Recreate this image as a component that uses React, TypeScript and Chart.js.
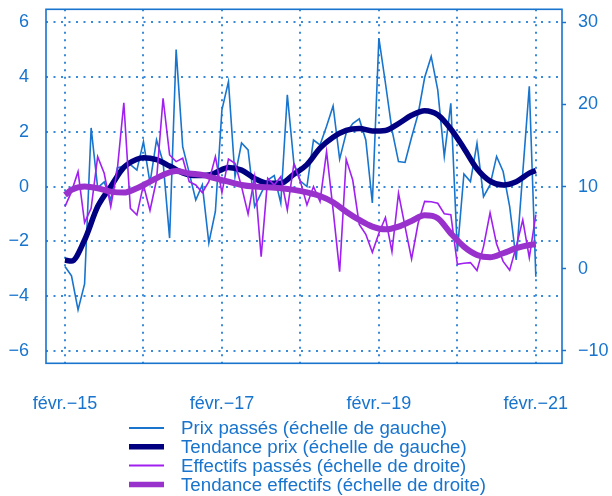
import React, { useEffect, useRef } from "react";
import { Chart, registerables } from "chart.js";

Chart.register(...registerables);

// ---- Data (months counted from févr. 2015 = 0) ----
const months = Array.from({ length: 73 }, (_, i) => i);

const prixPasses = [
  -2.92, -3.26, -4.5, -3.55, 2.14, -0.05, 0.17, -0.49, 0.68, 0.75,
  0.8, 0.6, 1.64, 0.13, 1.7, 0.9, -1.88, 5.0, 1.46, 0.5,
  -0.49, 0.06, -2.06, -0.91, 2.8, 3.83, 0.36, 1.59, 1.34, -0.73,
  -0.24, 0.24, 0.4, -0.6, 3.35, 0.86, 0.2, 0.0, 1.7, 1.52,
  2.2, 2.94, 1.0, 1.95, 2.3, 2.47, 1.7, -0.6, 5.42, 3.78,
  2.07, 0.91, 0.88, 1.8, 2.65, 3.98, 4.75, 3.53, 1.1, 3.04,
  -2.37, 0.46, 0.18, 1.58, -0.37, 0.06, 1.1, 0.55, -0.73, -2.68,
  0.5, 3.66, -3.29,
];

const effectifsPasses = [
  7.56, 9.39, 11.82, 5.61, 7.36, 13.65, 11.62, 7.56, 12.03, 20.2,
  7.36, 6.55, 10.2, 7.1, 10.8, 20.75, 13.85, 13.04, 13.45, 10.6,
  10.2, 9.27, 10.6, 13.65, 9.27, 13.36, 12.84, 10.0, 6.67, 11.2,
  1.48, 11.0, 10.2, 11.2, 7.16, 12.76, 10.6, 7.77, 10.0, 8.17,
  14.25, 7.16, -0.35, 13.32, 10.8, 5.4, 4.2, 2.0, 4.33, 6.24,
  2.08, 9.19, 5.13, 1.2, 5.54, 8.2, 8.15, 7.97, 6.7, 6.58,
  0.55, 0.67, 0.75, -0.22, 2.7, 6.8, 3.0, 0.9, -0.17, 2.7,
  5.94, 1.35, 6.6,
];

const tendancePrixMois = [0, 1, 3, 5, 7, 9, 11, 12, 14, 16, 18, 20, 22, 24, 25, 27, 29, 31, 33, 35, 37, 39, 41, 43, 45, 47, 49, 51, 53, 55, 57, 59, 61, 63, 65, 67, 69, 71, 72];
const tendancePrix = [
  -2.68, -2.72, -1.95, -0.73, 0.0, 0.7, 1.0, 1.05, 0.98, 0.75,
  0.5, 0.4, 0.42, 0.62, 0.7, 0.6, 0.3, 0.12, 0.12, 0.45,
  0.8, 1.4, 1.8, 2.05, 2.12, 2.03, 2.05, 2.3, 2.6, 2.77,
  2.62, 2.1, 1.4, 0.65, 0.2, 0.06, 0.18, 0.49, 0.58,
];

const tendanceEffMois = [0, 1, 3, 5, 7, 9, 11, 13, 15, 17, 19, 21, 23, 25, 27, 29, 31, 33, 35, 37, 39, 41, 43, 45, 47, 49, 51, 53, 55, 57, 59, 61, 63, 65, 67, 69, 71, 72];
const tendanceEffectifs = [
  8.98, 9.6, 10.0, 9.8, 9.39, 9.27, 9.8, 10.6, 11.42, 11.9,
  11.6, 11.42, 11.0, 10.6, 10.2, 10.0, 9.92, 9.8, 9.6, 9.3,
  8.86, 8.1, 6.95, 5.94, 5.13, 4.8, 5.13, 5.82, 6.5, 6.15,
  4.3, 2.7, 1.68, 1.4, 1.89, 2.5, 2.9, 2.98,
];

const xTickMonths = [0, 12, 24, 36, 48, 60, 72];
const xTickLabels: Record<number, string> = {
  0: "févr.−15",
  24: "févr.−17",
  48: "févr.−19",
  72: "févr.−21",
};
const leftTicks = [-6, -4, -2, 0, 2, 4, 6];
const rightTicks = [-10, 0, 10, 20, 30];

const seriesLabels = [
  "Prix passés (échelle de gauche)",
  "Tendance prix (échelle de gauche)",
  "Effectifs passés (échelle de droite)",
  "Tendance effectifs (échelle de droite)",
];

// ---- Styles ----
const BLUE = "#1874CD";
const GRID = "#3a8ad8";
const FAMILY = "'Liberation Sans', Arial, Helvetica, sans-serif";
const FONT = { family: FAMILY, size: 18 };
const LEGEND_FONT_SIZE = 18.7;
const fmt = (v: number) => String(v).replace("-", "\u2212");

const zeroPad = (s: any) => {
  s.paddingTop = 0;
  s.paddingBottom = 0;
  s.paddingLeft = 0;
  s.paddingRight = 0;
};

const boxPlugin = {
  id: "box",
  afterDatasetsDraw(chart: any) {
    const { ctx, chartArea: a } = chart;
    ctx.save();
    ctx.strokeStyle = BLUE;
    ctx.lineWidth = 1.6;
    ctx.strokeRect(a.left, a.top, a.right - a.left, a.bottom - a.top);
    ctx.restore();
  },
};

const legendPlugin = {
  id: "customLegend",
  afterDraw(chart: any) {
    const { ctx } = chart;
    const top = 428;
    const step = 18.8;
    ctx.save();
    ctx.font = `${LEGEND_FONT_SIZE}px ${FAMILY}`;
    ctx.textBaseline = "middle";
    ctx.textAlign = "left";
    chart.data.datasets.forEach((ds: any, i: number) => {
      const y = top + i * step;
      ctx.strokeStyle = ds.borderColor;
      ctx.lineWidth = ds.legendWidth;
      ctx.lineCap = "butt";
      ctx.beginPath();
      ctx.moveTo(129, y);
      ctx.lineTo(164, y);
      ctx.stroke();
      ctx.fillStyle = BLUE;
      ctx.fillText(ds.label, 181, y + 1);
    });
    ctx.restore();
  },
};

export default function App() {
  const ref = useRef<HTMLCanvasElement | null>(null);

  useEffect(() => {
    if (!ref.current) return;
    const chart = new Chart(ref.current, {
      type: "line",
      data: {
        datasets: [
          {
            label: seriesLabels[0],
            data: months.map((m, i) => ({ x: m, y: prixPasses[i] })),
            borderColor: BLUE,
            borderWidth: 1.6,
            legendWidth: 2,
            pointRadius: 0,
            tension: 0,
            yAxisID: "y",
            order: 4,
          } as any,
          {
            label: seriesLabels[1],
            data: tendancePrixMois.map((m, i) => ({ x: m, y: tendancePrix[i] })),
            borderColor: "#000080",
            borderWidth: 5.5,
            legendWidth: 5.5,
            pointRadius: 0,
            cubicInterpolationMode: "monotone",
            yAxisID: "y",
            order: 3,
          } as any,
          {
            label: seriesLabels[2],
            data: months.map((m, i) => ({ x: m, y: effectifsPasses[i] })),
            borderColor: "#A020F0",
            borderWidth: 1.6,
            legendWidth: 2,
            pointRadius: 0,
            tension: 0,
            yAxisID: "y2",
            order: 2,
          } as any,
          {
            label: seriesLabels[3],
            data: tendanceEffMois.map((m, i) => ({ x: m, y: tendanceEffectifs[i] })),
            borderColor: "#9932CC",
            borderWidth: 6,
            legendWidth: 5.5,
            pointRadius: 0,
            cubicInterpolationMode: "monotone",
            yAxisID: "y2",
            order: 1,
          } as any,
        ],
      },
      options: {
        responsive: false,
        animation: false,
        layout: { padding: { top: 9.3, right: 0, bottom: 0, left: 0 } },
        plugins: {
          legend: { display: false },
          tooltip: { enabled: false },
          title: { display: false },
        },
        scales: {
          x: {
            type: "linear",
            position: "bottom",
            min: -2.9,
            max: 76,
            afterBuildTicks: (s: any) => {
              s.ticks = xTickMonths.map((v) => ({ value: v }));
            },
            afterFit: (s: any) => {
              s.height = 496 - 363.3;
              zeroPad(s);
            },
            ticks: {
              color: BLUE,
              font: FONT,
              padding: 30,
              maxRotation: 0,
              autoSkip: false,
              callback: (v: any) => xTickLabels[v as number] ?? "",
            },
            grid: { color: GRID, lineWidth: 2, drawTicks: false },
            border: { display: false, dash: [2, 5.5] },
          },
          y: {
            type: "linear",
            position: "left",
            min: -6.45,
            max: 6.47,
            afterBuildTicks: (s: any) => {
              s.ticks = leftTicks.map((v) => ({ value: v }));
            },
            afterFit: (s: any) => {
              s.width = 46;
              zeroPad(s);
            },
            ticks: {
              color: BLUE,
              font: FONT,
              padding: 17,
              callback: (v: any) => fmt(v as number),
            },
            grid: { color: GRID, lineWidth: 2, drawTicks: false },
            border: { display: false, dash: [2, 5.5] },
          },
          y2: {
            type: "linear",
            position: "right",
            min: -11.5,
            max: 31.57,
            afterBuildTicks: (s: any) => {
              s.ticks = rightTicks.map((v) => ({ value: v }));
            },
            afterFit: (s: any) => {
              s.width = 50;
              zeroPad(s);
            },
            ticks: {
              color: BLUE,
              font: FONT,
              padding: 12,
              callback: (v: any) => fmt(v as number),
            },
            grid: {
              drawOnChartArea: false,
              drawTicks: true,
              tickLength: 4,
              tickColor: BLUE,
              tickWidth: 1.5,
            },
            border: { display: false },
          },
        },
      } as any,
      plugins: [boxPlugin, legendPlugin],
    });
    return () => chart.destroy();
  }, []);

  return (
    <div style={{ position: "absolute", left: 0, top: 0, width: 612, height: 496, background: "#fff" }}>
      <canvas ref={ref} width={612} height={496} style={{ display: "block", width: 612, height: 496 }} />
    </div>
  );
}
